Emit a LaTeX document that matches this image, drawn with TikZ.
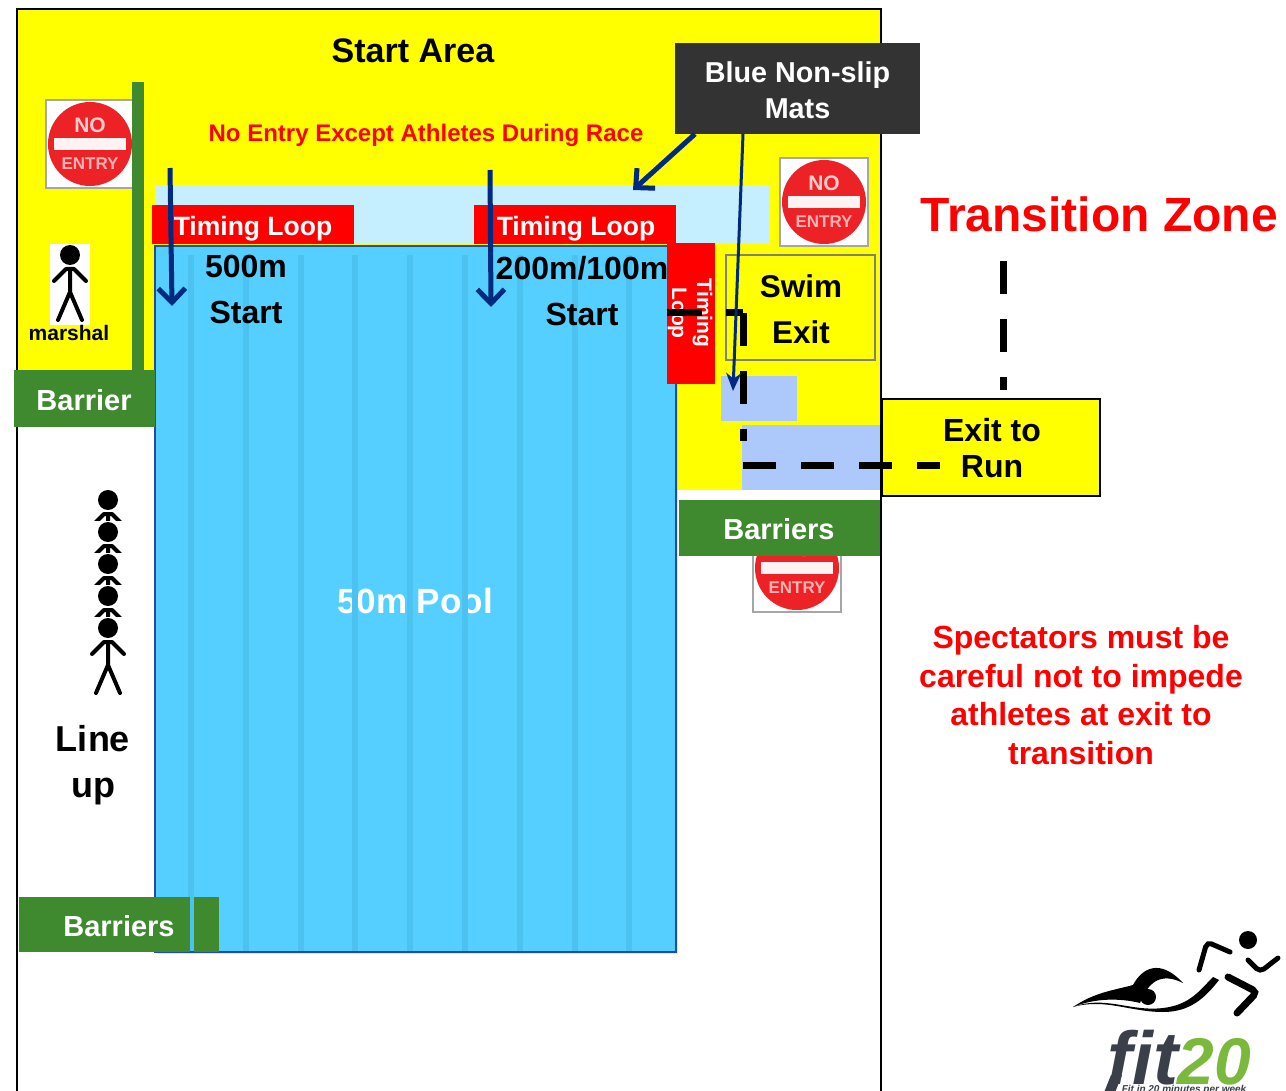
\documentclass[tikz,border=0pt]{standalone}
\usepackage{fontspec}
\setmainfont{Liberation Sans}
\usepackage{xcolor}
\usepackage{tikz}
\usetikzlibrary{arrows.meta,shadows}
\definecolor{startyellow}{HTML}{FFFF00}
\definecolor{poolblue}{HTML}{55CFFF}
\definecolor{laneblue}{HTML}{4CC2F0}
\definecolor{pooledge}{HTML}{1F4E9E}
\definecolor{palemat}{HTML}{C5EEFF}
\definecolor{nonslip}{HTML}{ADC8FA}
\definecolor{barriergreen}{HTML}{3F8A2F}
\definecolor{arrowblue}{HTML}{002A7F}
\definecolor{signred}{HTML}{EC2227}
\definecolor{fitgrey}{HTML}{3A3F4A}
\definecolor{fitgreen}{HTML}{7AB93B}
\newcommand{\pxfont}[2]{\fontsize{#1}{#2}\selectfont\bfseries}
\tikzset{
	txt/.style={inner sep=0pt,align=center},
	greenbox/.style={fill=barriergreen,inner sep=0pt},
	greentxt/.style={txt,text=white,font=\pxfont{29}{34}},
	loopbox/.style={fill=red,inner sep=0pt},
	looptxt/.style={txt,text=white,font=\pxfont{26.5}{30}},
	blacktxt/.style={txt,font=\pxfont{32}{38}},
	redtxt/.style={txt,text=red},
	lane/.style={laneblue,line width=6pt},
	course/.style={line width=7pt,dash pattern=on 33pt off 25pt},
	bluearrow/.style={arrowblue,line width=5pt,-{Straight Barb[length=14pt,width=27pt,line width=5pt]}},
	nosign/.pic={
		\path[fill=white,draw=gray!70,line width=2pt] (-44,-44) rectangle (44,44);
		\fill[signred] (0,0) circle (42);
		\fill[white!95!red] (-36,-6) rectangle (36,6);
		\node[txt,text=white!80!red,font=\pxfont{21}{21}] (-no) at (0,-19) {NO};
		\node[txt,text=white!70!red,font=\pxfont{17}{17}] (-entry) at (0,20) {ENTRY};
	},
	stickman/.pic={
		\fill[white] (-20,-11) rectangle (20,70);
		\fill[black] (0,0) circle (10);
		\draw[line width=4pt,line cap=round,line join=round] (-16,26) -- (-4,14) -- (4,14) -- (16,26);
		\draw[line width=4pt,line cap=round,line join=round] (0,14) -- (0,37) -- (-12,65);
		\draw[line width=4pt,line cap=round] (0,37) -- (12,65);
	}
}
\begin{document}
\begin{tikzpicture}[x=1pt,y=-1pt]
	\useasboundingbox (0,0) rectangle (1286,1091);
	\clip (0,0) rectangle (1286,1091);
	% site
	\fill[white] (0,0) rectangle (1286,1091);
	\fill[startyellow] (18,10) rectangle (881,427);
	\fill[startyellow] (155,427) rectangle (881,490);
	\draw[line width=2pt] (17,1100) -- (17,9) -- (881,9) -- (881,1100);
	\fill[palemat] (155,185) rectangle (770,244);
	\fill[nonslip] (721,376) rectangle (797,421);
	\fill[nonslip] (742,425) rectangle (880,490);
	% pool
	\path[fill=poolblue,draw=pooledge,line width=2pt,drop shadow={shadow xshift=2pt,shadow yshift=-2pt,opacity=0.2}] (155,246) rectangle (676,952);
	\node[txt,text=white,font=\pxfont{35}{40}] (pool) at (415,601) {50m Pool};
	\foreach \x in {191,246,301,355,410,465,520,575,629}
		\draw[lane] (\x,255) -- (\x,951);
	% signs
	\pic (signa) at (90,144) {nosign};
	\pic (signb) at (824,202) {nosign};
	\pic (signc) at (797,568) {nosign};
	% barriers
	\fill[barriergreen] (132,82) rectangle (144,370);
	\node[greenbox,minimum width=141pt,minimum height=57pt] (barrier) at (84.5,398.5) {};
	\node[greentxt] (barriertxt) at (84,400) {Barrier};
	\node[greenbox,minimum width=201pt,minimum height=56pt] (barriersa) at (779.5,528) {};
	\node[greentxt] (barriersatxt) at (779,529) {Barriers};
	\node[greenbox,minimum width=171pt,minimum height=55pt] (barriersb) at (104.5,924.5) {};
	\fill[barriergreen] (194,897) rectangle (219,952);
	\node[greentxt] (barriersbtxt) at (119,926) {Barriers};
	% timing loops
	\node[loopbox,minimum width=202pt,minimum height=39pt] (loopa) at (253,224.5) {};
	\node[looptxt] (loopatxt) at (253,229) {Timing Loop};
	\node[loopbox,minimum width=202pt,minimum height=39pt] (loopb) at (575,224.5) {};
	\node[looptxt] (loopbtxt) at (576,229) {Timing Loop};
	\node[loopbox,minimum width=48pt,minimum height=141pt] (loopc) at (691,313.5) {};
	\node[txt,text=white,rotate=-90,font=\pxfont{21}{25}] (loopctxt) at (690,313) {Timing\\Loop};
	% swim exit
	\node[draw=gray,line width=2pt,minimum width=149pt,minimum height=105pt,inner sep=0pt] (swimbox) at (800.5,307.5) {};
	\node[blacktxt,font=\pxfont{31.5}{38}] (swim) at (801,286) {Swim};
	\node[blacktxt,font=\pxfont{31.5}{38}] (exit) at (801,332) {Exit};
	\node[draw,fill=startyellow,line width=2pt,minimum width=218pt,minimum height=97pt,inner sep=0pt] (runbox) at (991,447.5) {};
	\node[blacktxt] (exita) at (992,430) {Exit to};
	\node[blacktxt] (exitb) at (992,467) {Run};
	% athletes
	\pic (marshalman) at (70,255) {stickman};
	\node[txt,font=\pxfont{21}{24}] (marshal) at (69,333) {marshal};
	\foreach \y in {500,532,564,596,628}
		\pic (queue\y) at (108,\y) {stickman};
	\node[txt,font=\pxfont{36}{46}] (lineup) at (93,765) {Line\\up};
	% labels
	\node[txt,font=\pxfont{34}{40}] (startarea) at (413,51) {Start Area};
	\node[redtxt,font=\pxfont{24}{28}] (noentry) at (426,135) {No Entry Except Athletes During Race};
	\node[blacktxt] (fivehundred) at (246,266) {500m};
	\node[blacktxt] (starta) at (246,312) {Start};
	\node[blacktxt] (twohundred) at (582,268) {200m/100m};
	\node[blacktxt] (startb) at (582,314) {Start};
	\node[redtxt,font=\pxfont{48}{54}] (zone) at (1099,214) {Transition Zone};
	\node[redtxt,font=\pxfont{32}{38.5}] (spectators) at (1081,695) {Spectators must be\\careful not to impede\\athletes at exit to\\transition};
	% course
	\coordinate (ca) at (667,313);
	\coordinate (cb) at (702,313);
	\coordinate (cc) at (726,313);
	\coordinate (cd) at (743,313);
	\coordinate (ce) at (743,441);
	\coordinate (cf) at (743,465);
	\coordinate (cg) at (940,465);
	\coordinate (ch) at (1003,261);
	\coordinate (ci) at (1003,390);
	\draw[line width=7pt] (ca) -- (cb);
	\draw[line width=7pt] (cc) -- (cd);
	\draw[course] (cd) -- (ce);
	\draw[course] (cf) -- (cg);
	\draw[course] (ch) -- (ci);
	% arrows
	\node[fill=black!80,minimum width=245pt,minimum height=91pt,inner sep=0pt] (mats) at (797.5,88.5) {};
	\node[txt,text=white,font=\pxfont{28.75}{36}] (matstxt) at (797.5,90) {Blue Non-slip\\Mats};
	\coordinate (aa) at (170,168);
	\coordinate (ab) at (172,306);
	\coordinate (ac) at (490,170);
	\coordinate (ad) at (491,307);
	\coordinate (ae) at (695,134);
	\coordinate (af) at (633,190);
	\coordinate (ag) at (743,134);
	\coordinate (ah) at (733,391);
	\draw[bluearrow] (aa) -- (ab);
	\draw[bluearrow] (ac) -- (ad);
	\draw[bluearrow] (ae) -- (af);
	\draw[arrowblue,line width=3pt,-{Stealth[length=18pt,width=15pt]}] (ag) -- (ah);
	% logo
	\fill (1248,940) circle (9);
	\draw[line width=5pt,line cap=round,rounded corners=5pt] (1199,970) -- (1207,942) -- (1230,952);
	\draw[line width=5pt,line cap=round,rounded corners=5pt] (1248,960) -- (1260,972) -- (1278,958);
	\draw[line width=7pt,line cap=round,rounded corners=5pt] (1228,977) -- (1257,992) -- (1237,1013);
	\fill (1148,997) circle (8);
	\fill (1073,1007) .. controls (1095,992) and (1115,990) .. (1133,985) .. controls (1142,968) and (1160,958) .. (1183,983) .. controls (1165,974) and (1150,977) .. (1140,1003) .. controls (1120,998) and (1095,998) .. (1073,1007) -- cycle;
	\fill (1073,1007) .. controls (1105,995) and (1130,1012) .. (1163,1008) .. controls (1190,1005) and (1200,990) .. (1213,977) -- (1219,980) .. controls (1205,998) and (1190,1012) .. (1163,1012) .. controls (1130,1012) and (1105,998) .. (1073,1007) -- cycle;
	\node[inner sep=0pt,anchor=base,text=fitgrey,font=\itshape\pxfont{75}{80}] (logofit) at (1143,1084) {fit};
	\fill[fitgrey] (1111,1075) -- (1122,1075) -- (1114,1095) -- (1103,1095) -- cycle;
	\node[inner sep=0pt,anchor=base,text=fitgreen,font=\itshape\pxfont{66}{70}] (logotwenty) at (1214,1084) {20};
	\node[inner sep=0pt,anchor=base,text=fitgrey,font=\itshape\pxfont{10}{12}] (logotag) at (1184,1092) {Fit in 20 minutes per week};
\end{tikzpicture}
\end{document}
